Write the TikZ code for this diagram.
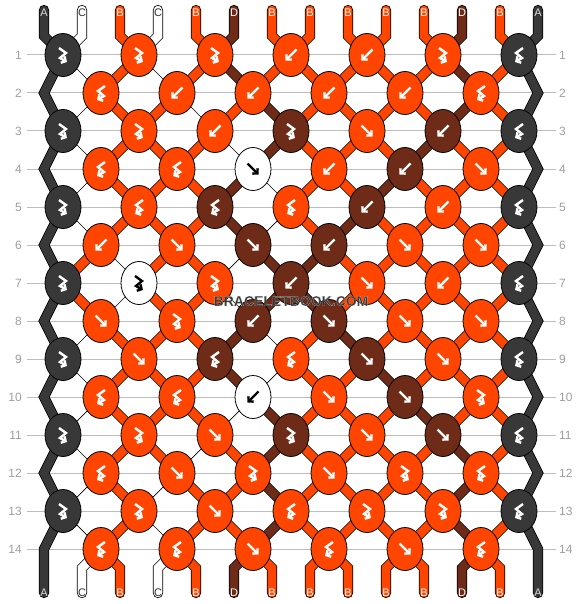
\documentclass[tikz,border=0pt]{standalone}
\usepackage{fontspec}
\setmainfont{Liberation Sans}
\usetikzlibrary{arrows.meta,shapes.geometric}

\definecolor{strA}{HTML}{383838}
\definecolor{strB}{HTML}{FF4500}
\definecolor{strC}{HTML}{FFFFFF}
\definecolor{strD}{HTML}{6E2C18}
\colorlet{arrA}{white}
\colorlet{arrB}{white}
\colorlet{arrC}{black}
\colorlet{arrD}{white}
\colorlet{lblA}{white!85!black}
\colorlet{lblB}{white}
\colorlet{lblC}{black!80}
\colorlet{lblD}{white}
\definecolor{gridgray}{HTML}{BDBDBD}
\definecolor{numgray}{HTML}{9E9E9E}

% outlined text for the watermark
\newcommand\haloword[1]{\special{pdf:literal 2 Tr 0.11 w 0.85 0.85 0.85 RG}#1\special{pdf:literal 0 Tr}}

\tikzset{
  knot/.style={ellipse, draw=black, line width=0.8pt, minimum width=36pt, minimum height=43pt, inner sep=0pt},
  strand/.style={draw=black, line width=0.8pt, double=str#1, double distance=8.6pt},
  seg-A/.style={strand=A},
  seg-B/.style={strand=B},
  seg-D/.style={strand=D},
  seg-C/.style={draw=black, line width=0.7pt},
  stub/.style={strand=#1, line cap=round},
  tag/.style={font=\fontsize{11}{11}\selectfont, text=lbl#1, inner sep=0pt},
  rownum/.style={font=\fontsize{12}{12}\selectfont, text=numgray, inner sep=0pt},
  rowline/.style={draw=gridgray, line width=1pt, shorten <=5pt, shorten >=3pt},
  arr/.style={line width=2.4pt, -{Straight Barb[length=3.4pt,width=7.5pt]}},
  pics/kf/.style={code={\draw[arr] (-5.5,-5.5) -- (5.5,5.5);}},
  pics/kb/.style={code={\draw[arr] (5.5,-5.5) -- (-5.5,5.5);}},
  pics/kfb/.style={code={\draw[arr] (-4,-7) -- (3,-2) -- (-3,3) -- (4,7);}},
  pics/kbf/.style={code={\draw[arr] (4,-7) -- (-3,-2) -- (3,3) -- (-4,7);}},
  wmark/.style={font=\fontsize{14}{14}\selectfont\bfseries, inner sep=0pt},
}

\begin{document}
\begin{tikzpicture}[x=1pt,y=-1pt]
\useasboundingbox (0,0) rectangle (582,604);

% row numbers and grid lines
\foreach \r in {1,...,14} {
  \pgfmathsetmacro\yy{55+38*(\r-1)}
  \node[rownum, anchor=east] (ln\r) at (22,\yy) {\r};
  \node[rownum, anchor=west] (rn\r) at (559,\yy) {\r};
  \draw[rowline] (ln\r.east) -- (rn\r.west);
}

% string positions in every row
\foreach \r in {1,...,14} {
  \foreach \p in {0,...,13} {
    \pgfmathsetmacro\xx{isodd(\r) ? 63+76*floor(\p/2) : (\p==0 ? 44 : (\p==13 ? 538 : 101+76*floor((\p-1)/2)))}
    \coordinate (s\r-\p) at (\xx,{55+38*(\r-1)});
  }
}
\foreach \p in {0,...,13} {
  \coordinate (t-\p) at ({44+38*\p},10);
  \coordinate (tk-\p) at ({44+38*\p},36);
  \coordinate (bk-\p) at ({44+38*\p},568);
  \coordinate (b-\p) at ({44+38*\p},593);
}

% strands between rows
\foreach \r/\cols in {
  1/{A,C,B,C,B,D,B,B,B,B,B,D,B,A},
  2/{A,C,B,B,C,B,D,B,B,B,B,D,B,A},
  3/{A,C,B,B,B,C,D,B,B,B,D,B,B,A},
  4/{A,C,B,B,B,D,C,B,B,D,B,B,B,A},
  5/{A,C,B,B,B,D,C,B,D,B,B,B,B,A},
  6/{A,B,C,B,B,C,D,D,B,B,B,B,B,A},
  7/{A,B,C,B,B,C,D,D,B,B,B,B,B,A},
  8/{A,C,B,B,B,D,C,B,D,B,B,B,B,A},
  9/{A,C,B,B,B,D,C,B,B,D,B,B,B,A},
  10/{A,C,B,B,B,C,D,B,B,B,D,B,B,A},
  11/{A,C,B,B,C,B,D,B,B,B,B,D,B,A},
  12/{A,C,B,C,B,B,D,B,B,B,B,D,B,A},
  13/{A,C,B,C,B,B,D,B,B,B,B,D,B,A}} {
  \pgfmathtruncatemacro\rn{\r+1}
  \foreach \col [count=\p from 0] in \cols {
    \ifnum\p>0 \ifnum\p<13
      \draw[seg-\col] (s\r-\p) -- (s\rn-\p);
    \fi\fi
  }
}

% loose ends top and bottom
\foreach \col [count=\p from 0] in {A,C,B,C,B,D,B,B,B,B,B,D,B,A} {
  \ifnum\p>0 \ifnum\p<13
    \draw[stub=\col] (t-\p) -- (tk-\p) -- (s1-\p);
    \draw[stub=\col] (s14-\p) -- (bk-\p) -- (b-\p);
  \fi\fi
}
\draw[stub=A] (t-0) -- (tk-0) \foreach \r in {1,...,14} { -- (s\r-0) } -- (bk-0) -- (b-0);
\draw[stub=A] (t-13) -- (tk-13) \foreach \r in {1,...,14} { -- (s\r-13) } -- (bk-13) -- (b-13);

% knots
\foreach \r/\knots in {
  1/{fb/A,fb/B,fb/B,b/B,b/B,fb/B,bf/A},
  2/{bf/B,b/B,b/B,b/B,b/B,bf/B},
  3/{fb/A,fb/B,b/B,fb/D,f/B,b/D,bf/A},
  4/{bf/B,bf/B,f/C,b/B,b/D,f/B},
  5/{fb/A,bf/B,bf/D,bf/B,b/D,b/B,bf/A},
  6/{b/B,f/B,f/D,b/D,f/B,f/B},
  7/{fb/A,fb/C,fb/B,b/D,f/B,b/B,bf/A},
  8/{f/B,fb/B,b/D,f/D,f/B,f/B},
  9/{fb/A,f/B,bf/D,bf/B,f/D,f/B,bf/A},
  10/{bf/B,bf/B,b/C,f/B,f/D,fb/B},
  11/{fb/A,fb/B,f/B,fb/D,f/B,f/D,bf/A},
  12/{bf/B,f/B,fb/B,f/B,fb/B,bf/B},
  13/{fb/A,fb/B,f/B,bf/B,fb/B,fb/B,bf/A},
  14/{bf/B,bf/B,f/B,bf/B,f/B,bf/B}} {
  \pgfmathsetmacro\yy{55+38*(\r-1)}
  \foreach \kt/\col [count=\k from 0] in \knots {
    \pgfmathsetmacro\xx{(isodd(\r) ? 63 : 101)+76*\k}
    \node[knot, fill=str\col] (k\r-\k) at (\xx,\yy) {};
    \pic[color=arr\col] at (k\r-\k) {k\kt};
  }
}

% string letters
\foreach \col [count=\p from 0] in {A,C,B,C,B,D,B,B,B,B,B,D,B,A} {
  \node[tag=\col] (top-\p) at (t-\p) [yshift=-3pt] {\col};
  \node[tag=\col] (bot-\p) at (b-\p) {\col};
}

% watermark
\node[wmark, text=black!78] (wm) at (291,301) {\haloword{BRACELETBOOK.COM}};
\end{tikzpicture}
\end{document}
